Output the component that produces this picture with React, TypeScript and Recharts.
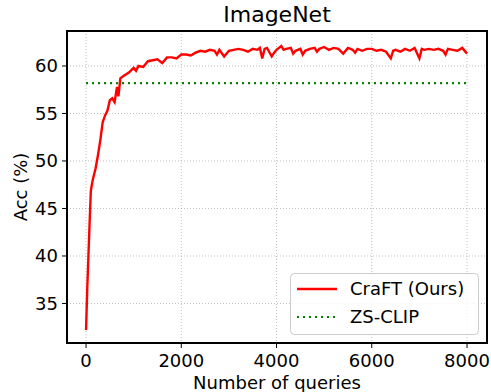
import React from 'react';
import { LineChart, Line, XAxis, YAxis, CartesianGrid, ReferenceArea } from 'recharts';

const queries = [
  0, 25, 50, 75, 100, 125, 150, 200, 250, 300, 350, 400, 450, 500, 550, 600, 650, 680, 720, 800,
  900, 1000, 1050, 1100, 1200, 1300, 1400, 1500, 1600, 1700, 1800, 1900, 2000, 2100, 2200, 2300,
  2400, 2500, 2600, 2700, 2750, 2800, 2900, 3000, 3100, 3200, 3300, 3400, 3500, 3600, 3650, 3700,
  3750, 3800, 3900, 3950, 4000, 4100, 4150, 4200, 4300, 4350, 4400, 4500, 4550, 4600, 4700, 4800, 4850, 4900, 5000,
  5100, 5200, 5300, 5400, 5500, 5600, 5650, 5700, 5800, 5900, 6000, 6100, 6200, 6300, 6400, 6450, 6500,
  6600, 6700, 6800, 6900, 7000, 7050, 7100, 7200, 7300, 7400, 7500, 7550, 7600, 7700, 7800, 7900, 8000,
];
const craftAcc = [
  32.2, 36.5, 40.0, 43.5, 46.8, 47.6, 48.2, 49.2, 50.6, 52.2, 54.1, 54.8, 55.3, 56.4, 56.6, 56.2, 57.8, 56.8, 58.7, 59.0,
  59.3, 59.8, 59.5, 60.0, 59.9, 60.5, 60.6, 60.7, 60.3, 60.9, 60.9, 60.8, 61.2, 61.2, 61.1, 61.4,
  61.6, 61.5, 61.7, 61.6, 61.2, 61.7, 61.0, 61.6, 61.7, 61.8, 61.7, 61.5, 61.8, 61.7, 61.9, 60.8,
  61.8, 61.9, 61.0, 61.4, 61.7, 62.1, 61.7, 61.8, 61.9, 61.3, 61.6, 61.8, 61.2, 61.6, 61.8, 61.9, 61.5, 61.8, 62.0,
  61.7, 61.9, 61.8, 61.3, 61.9, 61.7, 61.4, 61.8, 61.6, 61.8, 61.8, 61.6, 61.7, 61.5, 60.8, 61.6, 61.7,
  61.5, 61.8, 61.6, 61.9, 60.8, 61.8, 61.7, 61.8, 61.7, 61.8, 61.6, 61.2, 61.8, 61.7, 61.6, 61.9, 61.3,
];
const zsQueries = [0, 8000];
const zsAcc = [58.2, 58.2];

const xTicks = [0, 2000, 4000, 6000, 8000];
const yTicks = [35, 40, 45, 50, 55, 60];

const craftData = queries.map((q, i) => ({ q, acc: craftAcc[i] }));
const zsData = zsQueries.map((q, i) => ({ q, acc: zsAcc[i] }));

const font = '"DejaVu Sans", sans-serif';
const tickStyle = { fontSize: 18, fill: '#000', fontFamily: font };

export default function App() {
  return (
    <div style={{ position: 'relative', width: 491, height: 392 }}>
      <style>{`body{margin:0}`}</style>
      <LineChart width={491} height={392} margin={{ top: 31, right: 4, bottom: 0, left: 0 }}>
        <CartesianGrid stroke="#b0b0b0" strokeDasharray="1 2" strokeWidth={0.8} />
        <XAxis
          dataKey="q"
          type="number"
          domain={[-400, 8420]}
          allowDataOverflow
          ticks={xTicks}
          height={49}
          axisLine={false}
          tickSize={5}
          tickMargin={6}
          tickLine={{ stroke: '#000' }}
          tick={tickStyle}
        />
        <YAxis
          type="number"
          domain={[30.84, 63.68]}
          allowDataOverflow
          ticks={yTicks}
          width={67}
          axisLine={false}
          tickSize={5}
          tickMargin={4}
          tickLine={{ stroke: '#000' }}
          tick={tickStyle}
        />
        <Line data={zsData} dataKey="acc" stroke="#008000" strokeWidth={2.2} strokeDasharray="2 4" dot={false} isAnimationActive={false} />
        <Line data={craftData} dataKey="acc" stroke="#ff0000" strokeWidth={2.4} dot={false} isAnimationActive={false} />
        <ReferenceArea x1={-400} x2={8420} y1={30.84} y2={63.68} fill="none" stroke="#000" strokeWidth={2} />
      </LineChart>
      <svg width={491} height={392} style={{ position: 'absolute', left: 0, top: 0, pointerEvents: 'none' }}>
        <text x={277} y={22} textAnchor="middle" fontSize={22} fontFamily={font}>ImageNet</text>
        <text x={277} y={389} textAnchor="middle" fontSize={18} fontFamily={font}>Number of queries</text>
        <text x={27} y={187} textAnchor="middle" fontSize={18} fontFamily={font} transform="rotate(-90 27 187)">Acc (%)</text>
        <rect x={290.5} y={273.5} width={188} height={61} rx={4} fill="#fff" fillOpacity={0.8} stroke="#cccccc" />
        <line x1={297} x2={337} y1={289} y2={289} stroke="#ff0000" strokeWidth={2.4} />
        <text x={350} y={295} fontSize={18} fontFamily={font}>CraFT (Ours)</text>
        <line x1={297} x2={337} y1={317} y2={317} stroke="#008000" strokeWidth={2.2} strokeDasharray="2 4" />
        <text x={350} y={323} fontSize={18} fontFamily={font}>ZS-CLIP</text>
      </svg>
    </div>
  );
}
